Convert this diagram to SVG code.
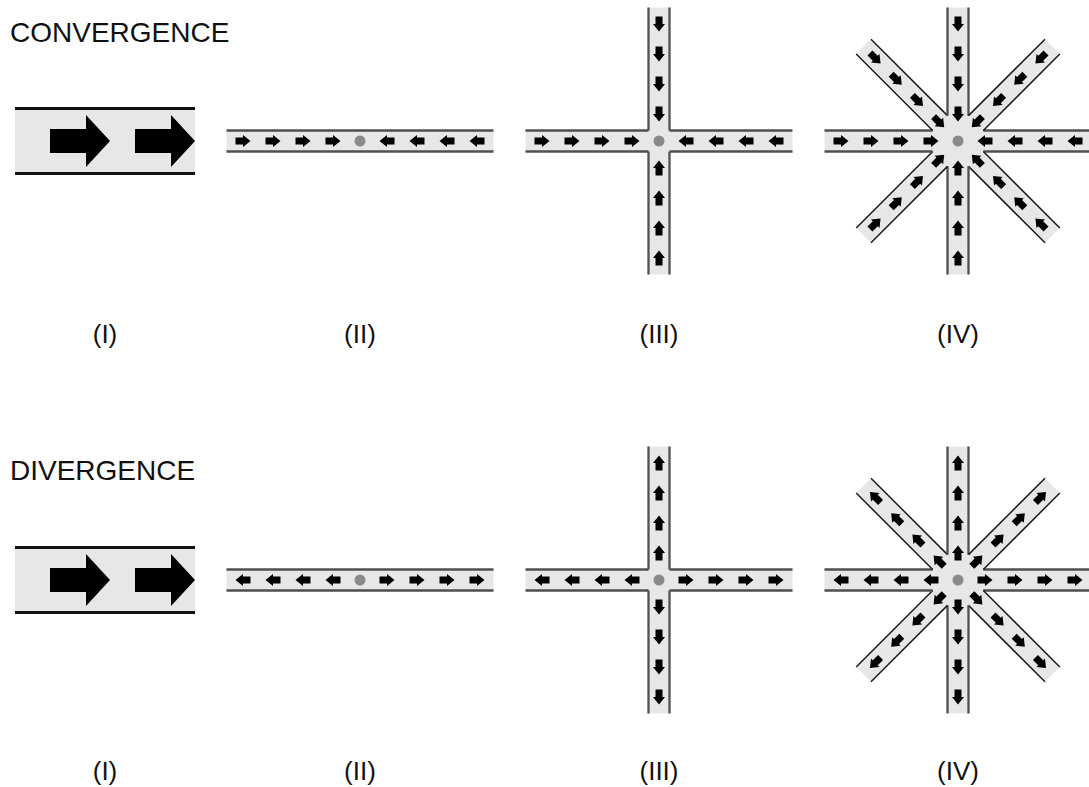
<svg xmlns="http://www.w3.org/2000/svg" xmlns:xlink="http://www.w3.org/1999/xlink" width="1089" height="787" viewBox="0 0 1089 787">
  <defs>
    <style>
      .band { fill: #e7e7e7; }
      .edge { fill: none; stroke: #505050; stroke-width: 2.3; }
      .edge-diag { fill: none; stroke: #1c1c1c; stroke-width: 1.5; }
      .edge-pipe { fill: none; stroke: #111; stroke-width: 3; }
      .arrow { fill: #000; }
      .hub { fill: #8a8a8a; }
      text { font-family: "Liberation Sans", Arial, Helvetica, sans-serif; fill: #111; }
      .title { font-size: 28px; }
      .label { font-size: 26px; text-anchor: middle; }
    </style>
    <!-- small arrow, pointing +x, centred on the origin -->
    <polygon id="sa" class="arrow" points="-7.5,-3.5 0,-3.5 0,-6 7.5,0 0,6 0,3.5 -7.5,3.5"/>
    <!-- large arrow for the pipe panel -->
    <polygon id="ba" class="arrow" points="-30,-12 6,-12 6,-26 30,0 6,26 6,12 -30,12"/>
    <!-- one arm of a channel, drawn along +x from the centre -->
    <rect id="armFill" class="band" x="0" y="-10.5" width="133.5" height="21"/>
    <path id="armEdge8" d="M25.35,-10.5 H133.5 M25.35,10.5 H133.5"/>
    <path id="armEdge4" d="M10.5,-10.5 H133.5 M10.5,10.5 H133.5"/>
    <g id="arrowsIn">
      <use xlink:href="#sa" transform="translate(27,0) rotate(180)"/>
      <use xlink:href="#sa" transform="translate(57,0) rotate(180)"/>
      <use xlink:href="#sa" transform="translate(87,0) rotate(180)"/>
      <use xlink:href="#sa" transform="translate(117,0) rotate(180)"/>
    </g>
    <g id="arrowsOut">
      <use xlink:href="#sa" transform="translate(27,0)"/>
      <use xlink:href="#sa" transform="translate(57,0)"/>
      <use xlink:href="#sa" transform="translate(87,0)"/>
      <use xlink:href="#sa" transform="translate(117,0)"/>
    </g>
  </defs>

  <rect width="1089" height="787" fill="#fff"/>

  <!-- ===================== CONVERGENCE row ===================== -->
  <text id="title-convergence" class="title" x="10" y="42">CONVERGENCE</text>

  <g id="conv-I">
    <rect class="band" x="15" y="110" width="180" height="62"/>
    <path class="edge-pipe" d="M15,108.5 H195 M15,173.5 H195"/>
    <use xlink:href="#ba" transform="translate(80,141)"/>
    <use xlink:href="#ba" transform="translate(165,141)"/>
  </g>

  <g id="conv-II" transform="translate(360,141)">
    <rect class="band" x="-133.5" y="-10.5" width="267" height="21"/>
    <path class="edge" d="M-133.5,-10.5 H133.5 M-133.5,10.5 H133.5"/>
    <use xlink:href="#arrowsIn"/>
    <use xlink:href="#arrowsIn" transform="rotate(180)"/>
    <circle class="hub" r="5.5"/>
  </g>

  <g id="conv-III" transform="translate(659,141)">
    <g id="conv-III-fill">
      <use xlink:href="#armFill"/>
      <use xlink:href="#armFill" transform="rotate(90)"/>
      <use xlink:href="#armFill" transform="rotate(180)"/>
      <use xlink:href="#armFill" transform="rotate(270)"/>
    </g>
    <g id="conv-III-edges" class="edge">
      <use xlink:href="#armEdge4"/>
      <use xlink:href="#armEdge4" transform="rotate(90)"/>
      <use xlink:href="#armEdge4" transform="rotate(180)"/>
      <use xlink:href="#armEdge4" transform="rotate(270)"/>
    </g>
    <use xlink:href="#arrowsIn"/>
    <use xlink:href="#arrowsIn" transform="rotate(90)"/>
    <use xlink:href="#arrowsIn" transform="rotate(180)"/>
    <use xlink:href="#arrowsIn" transform="rotate(270)"/>
    <circle class="hub" r="5.5"/>
  </g>

  <g id="conv-IV" transform="translate(958,141)">
    <g id="conv-IV-fill">
      <use xlink:href="#armFill"/>
      <use xlink:href="#armFill" transform="rotate(45)"/>
      <use xlink:href="#armFill" transform="rotate(90)"/>
      <use xlink:href="#armFill" transform="rotate(135)"/>
      <use xlink:href="#armFill" transform="rotate(180)"/>
      <use xlink:href="#armFill" transform="rotate(225)"/>
      <use xlink:href="#armFill" transform="rotate(270)"/>
      <use xlink:href="#armFill" transform="rotate(315)"/>
    </g>
    <g id="conv-IV-edges">
      <use class="edge" xlink:href="#armEdge8"/>
      <use class="edge-diag" xlink:href="#armEdge8" transform="rotate(45)"/>
      <use class="edge" xlink:href="#armEdge8" transform="rotate(90)"/>
      <use class="edge-diag" xlink:href="#armEdge8" transform="rotate(135)"/>
      <use class="edge" xlink:href="#armEdge8" transform="rotate(180)"/>
      <use class="edge-diag" xlink:href="#armEdge8" transform="rotate(225)"/>
      <use class="edge" xlink:href="#armEdge8" transform="rotate(270)"/>
      <use class="edge-diag" xlink:href="#armEdge8" transform="rotate(315)"/>
    </g>
    <use xlink:href="#arrowsIn"/>
    <use xlink:href="#arrowsIn" transform="rotate(45)"/>
    <use xlink:href="#arrowsIn" transform="rotate(90)"/>
    <use xlink:href="#arrowsIn" transform="rotate(135)"/>
    <use xlink:href="#arrowsIn" transform="rotate(180)"/>
    <use xlink:href="#arrowsIn" transform="rotate(225)"/>
    <use xlink:href="#arrowsIn" transform="rotate(270)"/>
    <use xlink:href="#arrowsIn" transform="rotate(315)"/>
    <circle class="hub" r="5.5"/>
  </g>

  <g id="conv-labels">
    <text class="label" x="105" y="342.5">(I)</text>
    <text class="label" x="360" y="342.5">(II)</text>
    <text class="label" x="659" y="342.5">(III)</text>
    <text class="label" x="958" y="342.5">(IV)</text>
  </g>

  <!-- ===================== DIVERGENCE row ===================== -->
  <text id="title-divergence" class="title" x="10" y="480">DIVERGENCE</text>

  <g id="div-I">
    <rect class="band" x="15" y="549" width="180" height="62"/>
    <path class="edge-pipe" d="M15,547.5 H195 M15,612.5 H195"/>
    <use xlink:href="#ba" transform="translate(80,580)"/>
    <use xlink:href="#ba" transform="translate(165,580)"/>
  </g>

  <g id="div-II" transform="translate(360,580)">
    <rect class="band" x="-133.5" y="-10.5" width="267" height="21"/>
    <path class="edge" d="M-133.5,-10.5 H133.5 M-133.5,10.5 H133.5"/>
    <use xlink:href="#arrowsOut"/>
    <use xlink:href="#arrowsOut" transform="rotate(180)"/>
    <circle class="hub" r="5.5"/>
  </g>

  <g id="div-III" transform="translate(659,580)">
    <g id="div-III-fill">
      <use xlink:href="#armFill"/>
      <use xlink:href="#armFill" transform="rotate(90)"/>
      <use xlink:href="#armFill" transform="rotate(180)"/>
      <use xlink:href="#armFill" transform="rotate(270)"/>
    </g>
    <g id="div-III-edges" class="edge">
      <use xlink:href="#armEdge4"/>
      <use xlink:href="#armEdge4" transform="rotate(90)"/>
      <use xlink:href="#armEdge4" transform="rotate(180)"/>
      <use xlink:href="#armEdge4" transform="rotate(270)"/>
    </g>
    <use xlink:href="#arrowsOut"/>
    <use xlink:href="#arrowsOut" transform="rotate(90)"/>
    <use xlink:href="#arrowsOut" transform="rotate(180)"/>
    <use xlink:href="#arrowsOut" transform="rotate(270)"/>
    <circle class="hub" r="5.5"/>
  </g>

  <g id="div-IV" transform="translate(958,580)">
    <g id="div-IV-fill">
      <use xlink:href="#armFill"/>
      <use xlink:href="#armFill" transform="rotate(45)"/>
      <use xlink:href="#armFill" transform="rotate(90)"/>
      <use xlink:href="#armFill" transform="rotate(135)"/>
      <use xlink:href="#armFill" transform="rotate(180)"/>
      <use xlink:href="#armFill" transform="rotate(225)"/>
      <use xlink:href="#armFill" transform="rotate(270)"/>
      <use xlink:href="#armFill" transform="rotate(315)"/>
    </g>
    <g id="div-IV-edges">
      <use class="edge" xlink:href="#armEdge8"/>
      <use class="edge-diag" xlink:href="#armEdge8" transform="rotate(45)"/>
      <use class="edge" xlink:href="#armEdge8" transform="rotate(90)"/>
      <use class="edge-diag" xlink:href="#armEdge8" transform="rotate(135)"/>
      <use class="edge" xlink:href="#armEdge8" transform="rotate(180)"/>
      <use class="edge-diag" xlink:href="#armEdge8" transform="rotate(225)"/>
      <use class="edge" xlink:href="#armEdge8" transform="rotate(270)"/>
      <use class="edge-diag" xlink:href="#armEdge8" transform="rotate(315)"/>
    </g>
    <use xlink:href="#arrowsOut"/>
    <use xlink:href="#arrowsOut" transform="rotate(45)"/>
    <use xlink:href="#arrowsOut" transform="rotate(90)"/>
    <use xlink:href="#arrowsOut" transform="rotate(135)"/>
    <use xlink:href="#arrowsOut" transform="rotate(180)"/>
    <use xlink:href="#arrowsOut" transform="rotate(225)"/>
    <use xlink:href="#arrowsOut" transform="rotate(270)"/>
    <use xlink:href="#arrowsOut" transform="rotate(315)"/>
    <circle class="hub" r="5.5"/>
  </g>

  <g id="div-labels">
    <text class="label" x="105" y="780">(I)</text>
    <text class="label" x="360" y="780">(II)</text>
    <text class="label" x="659" y="780">(III)</text>
    <text class="label" x="958" y="780">(IV)</text>
  </g>
</svg>
